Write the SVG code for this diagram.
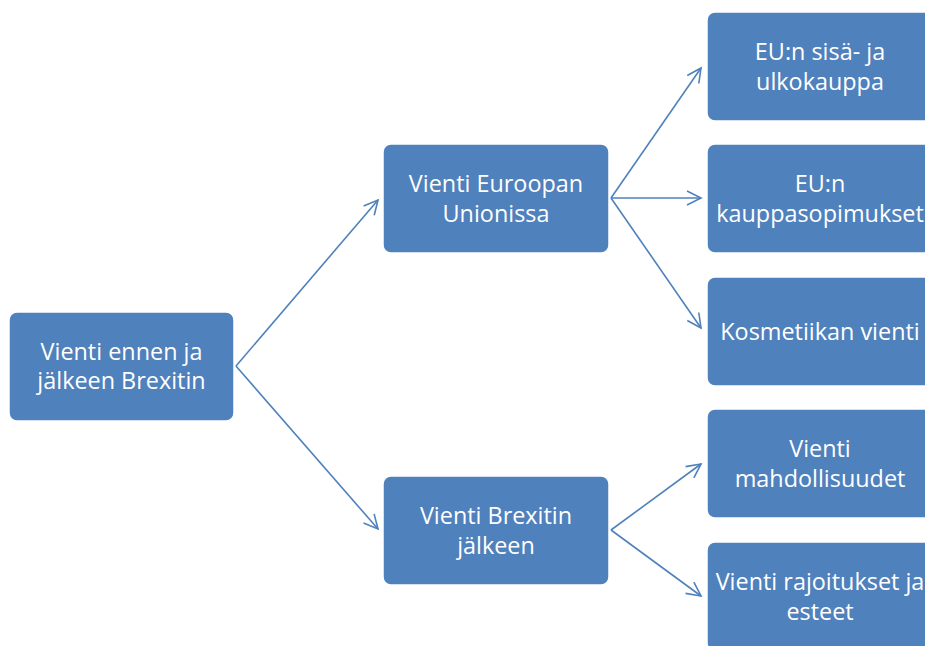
<svg xmlns="http://www.w3.org/2000/svg" width="925" height="646" viewBox="0 0 925 646">
<style>
.box{fill:#4F81BD;stroke:#ffffff;stroke-width:1.5}
.t{fill:#ffffff;font-family:"Open Sans","Liberation Sans",sans-serif;font-size:23.4px;text-anchor:middle}
.c{fill:none;stroke:#4F81BD;stroke-width:1.6}
</style>
<defs>
<marker id="a" markerUnits="userSpaceOnUse" markerWidth="20" markerHeight="20" refX="15" refY="8" orient="auto" viewBox="0 0 20 16">
<path d="M1,1 L15,8 L1,15" fill="none" stroke="#4F81BD" stroke-width="1.6"/>
</marker>
</defs>
<rect width="925" height="646" fill="#ffffff"/>
<g id="connectors">
<path class="c" d="M236,366 L378,200" marker-end="url(#a)"/>
<path class="c" d="M236,366 L378,529" marker-end="url(#a)"/>
<path class="c" d="M611,198 L701,68" marker-end="url(#a)"/>
<path class="c" d="M611,198 L701,198" marker-end="url(#a)"/>
<path class="c" d="M611,198 L701,328" marker-end="url(#a)"/>
<path class="c" d="M611,530 L701,464" marker-end="url(#a)"/>
<path class="c" d="M611,530 L701,596" marker-end="url(#a)"/>
</g>
<g id="root">
<rect class="box" x="9" y="312" width="225" height="109" rx="8"/>
<text class="t" x="121.5" y="359.5">Vienti ennen ja</text>
<text class="t" x="121.5" y="389">jälkeen Brexitin</text>
</g>
<g id="eu">
<rect class="box" x="383" y="144" width="226" height="109" rx="8"/>
<text class="t" x="496" y="192">Vienti Euroopan</text>
<text class="t" x="496" y="221.5">Unionissa</text>
</g>
<g id="brexit">
<rect class="box" x="383" y="476" width="226" height="109" rx="8"/>
<text class="t" x="496" y="524">Vienti Brexitin</text>
<text class="t" x="496" y="553.5">jälkeen</text>
</g>
<g id="kauppa">
<rect class="box" x="707" y="12" width="226" height="109" rx="8"/>
<text class="t" x="820" y="60">EU:n sisä- ja</text>
<text class="t" x="820" y="89.5">ulkokauppa</text>
</g>
<g id="sopimukset">
<rect class="box" x="707" y="144" width="226" height="109" rx="8"/>
<text class="t" x="820" y="192">EU:n</text>
<text class="t" x="820" y="221.5">kauppasopimukset</text>
</g>
<g id="kosmetiikka">
<rect class="box" x="707" y="277" width="226" height="109" rx="8"/>
<text class="t" x="820" y="339.5">Kosmetiikan vienti</text>
</g>
<g id="mahdollisuudet">
<rect class="box" x="707" y="409" width="226" height="109" rx="8"/>
<text class="t" x="820" y="457">Vienti</text>
<text class="t" x="820" y="486.5">mahdollisuudet</text>
</g>
<g id="rajoitukset">
<rect class="box" x="707" y="542" width="226" height="109" rx="8"/>
<text class="t" x="820" y="590">Vienti rajoitukset ja</text>
<text class="t" x="820" y="619.5">esteet</text>
</g>
</svg>
